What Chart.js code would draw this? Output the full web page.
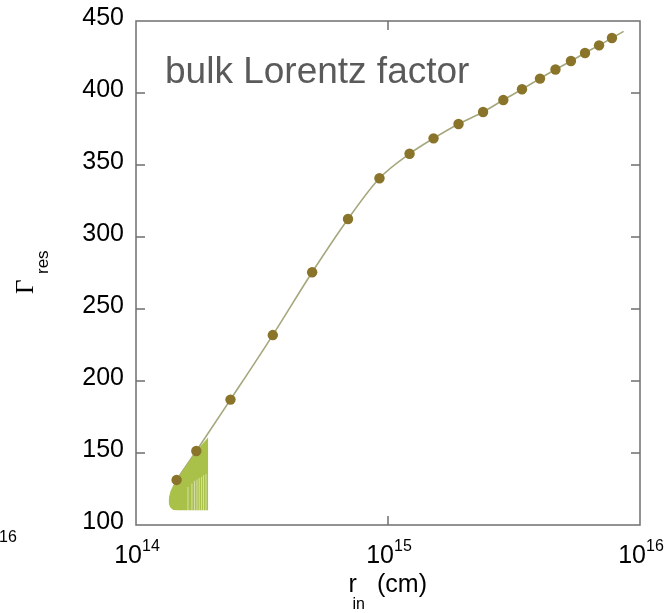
<!DOCTYPE html>
<html>
<head>
<meta charset="utf-8">
<script src="https://cdn.jsdelivr.net/npm/chart.js@4/dist/chart.umd.min.js"></script>
<style>
  html, body { margin: 0; padding: 0; background: #ffffff; }
  #wrap { width: 664px; height: 613px; }
</style>
</head>
<body>
<div id="wrap"><canvas id="c" width="664" height="613"></canvas></div>
<script>
// Inner radius r_in (cm) and resulting bulk Lorentz factor at each computed point
const rIn = [1.449e14, 1.735e14, 2.371e14, 3.49e14, 5.0e14, 6.94e14, 9.25e14,
             1.218e15, 1.516e15, 1.905e15, 2.384e15, 2.868e15, 3.402e15, 4.01e15,
             4.62e15, 5.32e15, 6.05e15, 6.88e15, 7.74e15];
const gammaRes = [131.3, 151.4, 187.1, 231.9, 275.5, 312.5, 340.8,
                  357.8, 368.5, 378.5, 386.8, 395.1, 402.6, 410.0,
                  416.3, 422.2, 427.8, 433.1, 438.2];

// Continuous curve: the computed points plus the last sample of the run
const curveR = rIn.concat([8.61e15]);
const curveGamma = gammaRes.concat([442.8]);

// Shaded patch at small radii: upper and lower outlines
const patchUpperR = [1.347e14, 1.353e14, 1.371e14, 1.402e14, 1.441e14, 1.735e14, 1.935e14];
const patchUpperGamma = [116.5, 119.6, 123.4, 127.2, 131.0, 151.4, 160.9];
const patchLowerR = [1.347e14, 1.353e14, 1.371e14, 1.406e14, 1.472e14, 1.935e14];
const patchLowerGamma = [116.5, 114.0, 111.9, 110.5, 110.2, 110.2];

// Light streaks inside the patch (radius, upper end); all start at the patch floor
const streakR = [1.608e14, 1.667e14, 1.708e14, 1.746e14, 1.782e14, 1.820e14, 1.854e14, 1.895e14];
const streakTop = [126.4, 128.8, 130.6, 131.6, 132.7, 133.4, 134.6, 135.3];
const streakFloor = 110.2;

// Axis ticks
const yTicks = [100, 150, 200, 250, 300, 350, 400, 450];
const xExponents = [14, 15, 16];

const pts = (xs, ys) => xs.map((x, i) => ({ x: x, y: ys[i] }));
const streakData = [];
streakR.forEach((r, i) => {
  streakData.push({ x: r, y: streakFloor }, { x: r, y: streakTop[i] }, { x: r, y: null });
});

const SANS = "'Liberation Sans', Arial, Helvetica, sans-serif";
const SERIF = "'Liberation Serif', 'Times New Roman', serif";

const framePlugin = {
  id: 'frame',
  afterDraw(chart) {
    const ctx = chart.ctx;
    const a = chart.chartArea;
    const xs = chart.scales.x, ys = chart.scales.y;
    ctx.save();

    // plot box
    ctx.strokeStyle = '#6f6f6f';
    ctx.lineWidth = 1.5;
    ctx.strokeRect(a.left, a.top, a.right - a.left, a.bottom - a.top);

    // inward ticks
    ctx.beginPath();
    yTicks.slice(1, -1).forEach(v => {
      const py = ys.getPixelForValue(v);
      ctx.moveTo(a.left, py); ctx.lineTo(a.left + 9, py);
      ctx.moveTo(a.right, py); ctx.lineTo(a.right - 9, py);
    });
    xExponents.slice(1, -1).forEach(e => {
      const px = xs.getPixelForValue(Math.pow(10, e));
      ctx.moveTo(px, a.bottom); ctx.lineTo(px, a.bottom - 9);
      ctx.moveTo(px, a.top); ctx.lineTo(px, a.top + 9);
    });
    ctx.stroke();

    // x tick labels as powers of ten
    ctx.fillStyle = '#000000';
    ctx.textBaseline = 'alphabetic';
    ctx.textAlign = 'left';
    xExponents.forEach(e => {
      const px = xs.getPixelForValue(Math.pow(10, e));
      ctx.font = '25px ' + SANS;
      const wBase = ctx.measureText('10').width;
      ctx.font = '16px ' + SANS;
      const wExp = ctx.measureText(String(e)).width;
      const x0 = px - (wBase + wExp) / 2 + 1;
      ctx.font = '25px ' + SANS;
      ctx.fillText('10', x0, 563);
      ctx.font = '16px ' + SANS;
      ctx.fillText(String(e), x0 + wBase, 551);
    });
    // exponent of a neighbouring axis label reaching in from the left
    ctx.font = '16px ' + SANS;
    ctx.fillText('16', -1, 542);

    // x axis title: r_in (cm)
    ctx.font = '25px ' + SANS;
    ctx.fillText('r', 348.5, 592);
    ctx.fillText('(cm)', 377, 592);
    ctx.font = '16px ' + SANS;
    ctx.fillText('in', 352.5, 609);

    // y axis title: Γ_res, reading upwards
    ctx.save();
    ctx.translate(33, 294);
    ctx.rotate(-Math.PI / 2);
    ctx.font = '25px ' + SERIF;
    ctx.fillText('\u0393', 0, 0);
    ctx.font = '17px ' + SANS;
    ctx.fillText('res', 20, 15);
    ctx.restore();

    // panel label
    ctx.fillStyle = '#5a5a5a';
    ctx.font = '37px ' + SANS;
    ctx.fillText('bulk Lorentz factor', 165, 83);

    ctx.restore();
  }
};

new Chart(document.getElementById('c'), {
  type: 'scatter',
  data: {
    datasets: [
      {
        label: 'points',
        data: pts(rIn, gammaRes),
        showLine: false,
        pointRadius: 5.2,
        pointHoverRadius: 5.2,
        pointBackgroundColor: '#8a7429',
        pointBorderColor: '#8a7429',
        pointBorderWidth: 0,
        order: 0
      },
      {
        label: 'streaks',
        data: streakData,
        showLine: true,
        spanGaps: false,
        pointRadius: 0,
        borderColor: 'rgba(250,250,245,0.8)',
        borderWidth: 0.7,
        order: 1
      },
      {
        label: 'patch',
        data: pts(patchUpperR, patchUpperGamma),
        showLine: true,
        pointRadius: 0,
        borderWidth: 0,
        borderColor: 'rgba(0,0,0,0)',
        backgroundColor: '#a9c049',
        fill: '+1',
        tension: 0,
        order: 2
      },
      {
        label: 'patch floor',
        data: pts(patchLowerR, patchLowerGamma),
        showLine: true,
        pointRadius: 0,
        borderWidth: 0,
        borderColor: 'rgba(0,0,0,0)',
        fill: false,
        tension: 0,
        order: 2
      },
      {
        label: 'curve',
        data: pts(curveR, curveGamma),
        showLine: true,
        pointRadius: 0,
        borderColor: '#a6a77c',
        borderWidth: 1.6,
        cubicInterpolationMode: 'monotone',
        order: 3
      }
    ]
  },
  plugins: [framePlugin],
  options: {
    responsive: false,
    animation: false,
    events: [],
    layout: { padding: { left: 0, top: 21, right: 24, bottom: 88 } },
    plugins: {
      legend: { display: false },
      tooltip: { enabled: false },
      title: { display: false }
    },
    scales: {
      x: {
        type: 'logarithmic',
        min: 1e14,
        max: 1e16,
        display: false
      },
      y: {
        type: 'linear',
        min: 100,
        max: 450,
        afterBuildTicks: s => { s.ticks = yTicks.map(v => ({ value: v })); },
        afterFit: s => { s.width = 136; s.paddingTop = 0; s.paddingBottom = 0; },
        grid: { display: false, drawTicks: false },
        border: { display: false },
        ticks: {
          color: '#000000',
          padding: 12,
          labelOffset: -3,
          font: { family: SANS, size: 25 }
        }
      }
    }
  }
});
</script>
</body>
</html>
